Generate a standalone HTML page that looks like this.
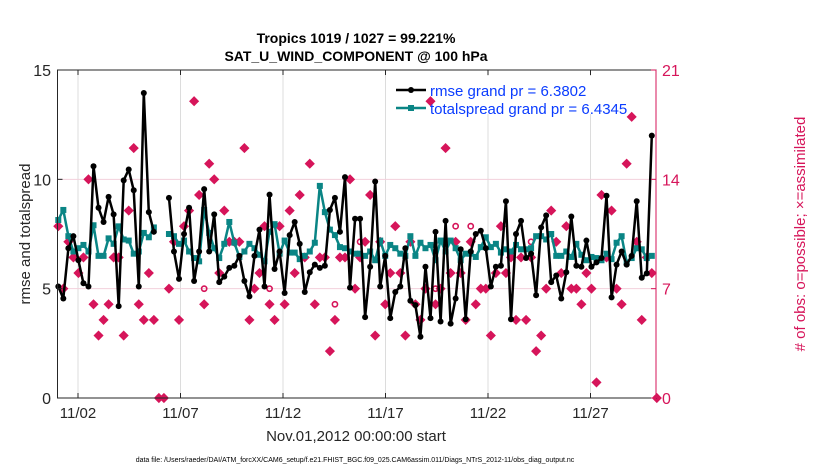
<!DOCTYPE html>
<html><head><meta charset="utf-8"><style>
html,body{margin:0;padding:0;background:#fff;}
svg{display:block;font-family:"Liberation Sans",Arial,sans-serif;}
</style></head><body>
<svg id="chart" width="830" height="470" viewBox="0 0 830 470" xmlns="http://www.w3.org/2000/svg">
<rect x="0" y="0" width="830" height="470" fill="#fff"/>
<text x="356" y="43" font-size="14" font-weight="bold" text-anchor="middle" fill="#000">Tropics 1019 / 1027 = 99.221%</text>
<text x="356" y="61" font-size="14" font-weight="bold" text-anchor="middle" fill="#000">SAT_U_WIND_COMPONENT @ 100 hPa</text>
<g id="grid"></g>
<rect x="390" y="76" width="262" height="38" fill="#fff"/>
<g id="obs"></g>
<g id="series"></g>
<rect x="57.5" y="70" width="598.5" height="328" fill="none" stroke="#262626" stroke-width="1"/>
<line x1="656" y1="70" x2="656" y2="398" stroke="#d6155a" stroke-width="1"/>
<g id="axes"></g>
<text transform="translate(30,234) rotate(-90)" font-size="15" text-anchor="middle" fill="#262626">rmse and totalspread</text>
<text transform="translate(805,234) rotate(-90)" font-size="15" text-anchor="middle" fill="#d6155a"># of obs: o=possible; ×=assimilated</text>
<text x="356" y="441" font-size="15" text-anchor="middle" fill="#262626">Nov.01,2012 00:00:00 start</text>
<text x="355" y="462" font-size="7" text-anchor="middle" fill="#000">data file: /Users/raeder/DAI/ATM_forcXX/CAM6_setup/f.e21.FHIST_BGC.f09_025.CAM6assim.011/Diags_NTrS_2012-11/obs_diag_output.nc</text>
<g>
<g>
<line x1="396" y1="90" x2="426" y2="90" stroke="#000" stroke-width="2.5"/><circle cx="411" cy="90" r="3" fill="#000"/>
<text x="430" y="96" font-size="15" fill="#0a3cff">rmse grand pr = 6.3802</text></g>
<g>
<line x1="396" y1="108" x2="426" y2="108" stroke="#0a8585" stroke-width="2.5"/><rect x="408" y="105" width="6" height="6" fill="#0a8585"/>
<text x="430" y="114" font-size="15" fill="#0a3cff">totalspread grand pr = 6.4345</text></g>
</g>
</svg>
<script>
const leftTicks=[0,5,10,15];
const rightTicks=[0,7,14,21];
const dayTicks=[1,6,11,16,21,26];
const dayLabels=["11/02","11/07","11/12","11/17","11/22","11/27"];
const rmse=[5.1,4.55,6.85,7.4,6.3,5.25,5.1,10.6,8.7,8.05,9.2,8.4,4.2,9.95,10.45,9.5,5.1,13.95,8.5,7.6,null,null,
9.15,6.7,5.45,7.5,8.7,5.35,6.7,9.55,
6.7,8.4,5.3,5.55,5.95,6.05,6.5,5.35,4.65,6.5,7.7,5.1,9.3,5.9,6.7,4.8,7.45,8.05,7.05,4.85,5.75,6.1,5.95,6.05,8.6,9.15,7.6,10.1,5.05,8.2,
8.2,3.7,6.0,9.9,5.1,6.5,3.65,4.85,5.1,6.85,4.45,4.25,2.8,6.0,3.65,7.6,3.5,8.1,3.4,4.55,6.8,3.6,6.7,7.5,7.65,6.85,5.1,6.0,6.05,9.0,
3.6,7.5,8.1,6.4,6.6,4.7,7.8,8.35,5.3,5.6,4.55,5.75,8.3,6.05,6.0,7.2,6.0,6.2,6.4,9.25,4.6,6.1,6.7,6.1,6.5,9.0,5.5,5.7,12.0];
const spread=[8.14,8.6,7.4,6.7,6.85,7.0,6.7,7.9,6.5,6.5,7.3,7.05,7.85,7.25,7.2,6.6,6.7,7.55,7.35,7.8,null,null,
7.5,7.4,7.05,7.2,6.7,6.4,6.25,8.6,
7.55,6.85,6.4,7.05,8.05,7.1,6.45,6.7,7.05,6.85,6.55,6.25,7.6,7.95,6.6,7.2,6.65,6.65,6.35,6.5,6.7,7.1,9.7,8.5,7.7,7.45,6.9,6.85,6.7,6.6,
6.6,6.5,6.7,6.3,7.2,6.5,7.0,6.85,6.6,6.5,7.4,6.5,7.1,6.85,7.0,6.3,7.2,6.7,7.2,6.85,6.3,6.6,6.6,6.45,6.9,7.35,6.9,7.05,6.65,6.8,
6.7,7.0,6.8,6.8,6.85,7.4,7.4,7.25,7.5,6.5,6.5,6.7,6.45,7.05,6.55,6.3,6.45,6.4,6.3,6.6,6.35,7.1,7.4,6.2,6.4,6.85,6.8,6.4,6.5];
const nAssim=[11,7,10,9,8,9,14,6,4,5,6,9,9,4,12,16,6,5,8,5,0,0,
7,10,5,11,12,19,13,6,
15,14,8,12,10,10,10,16,5,7,8,11,6,5,11,6,12,8,13,9,15,6,9,9,3,5,9,9,14,7,
9,10,13,4,10,6,8,11,8,4,10,6,5,7,19,6,7,16,8,10,8,5,10,6,7,7,4,8,11,8,
9,5,9,5,9,3,4,7,12,10,8,11,7,7,6,8,7,1,13,9,12,7,6,15,18,10,5,9,8,0];
const nPoss=[11,7,10,9,8,9,14,6,4,5,6,9,9,4,12,16,6,5,8,5,0,0,
7,10,5,11,12,19,13,7,
15,14,8,12,10,10,10,16,5,7,8,11,7,5,11,6,12,8,13,9,15,6,9,9,3,6,9,9,14,7,
10,10,13,4,10,6,8,11,8,4,10,6,5,7,19,7,7,16,8,11,8,5,11,6,7,7,4,8,11,8,
9,5,9,5,10,3,4,7,12,10,8,11,7,7,6,8,7,1,13,9,12,7,6,15,18,10,5,9,8,0];

const NS="http://www.w3.org/2000/svg";
const X0=57.5,X1=656,Y0=398,Y1=70;
const ptX0=58.3,ptX1=651.8;
function xIdx(i){return ptX0+i*(ptX1-ptX0)/(rmse.length-1);}
function xDay(d){return 57.5+20.5*d;}
function yL(v){return Y0-(v/15)*(Y0-Y1);}
function yR(v){return Y0-(v/21)*(Y0-Y1);}
function mk(tag,attrs,parent){const e=document.createElementNS(NS,tag);for(const k in attrs)e.setAttribute(k,attrs[k]);parent.appendChild(e);return e;}

const grid=document.getElementById('grid');
dayTicks.forEach(d=>{const l=mk('line',{x1:xDay(d),x2:xDay(d),y1:Y1,y2:Y0,stroke:'#dcdcdc','stroke-width':1},grid);

});
[5,10].forEach(v=>{const l=mk('line',{x1:X0,x2:X1,y1:yL(v),y2:yL(v),stroke:'#f3d0dc','stroke-width':1},grid);

});

const axes=document.getElementById('axes');
leftTicks.forEach(v=>{const t=mk('text',{x:51,y:yL(v)+6,'font-size':16,'text-anchor':'end',fill:'#262626'},axes);t.textContent=v;


const l=mk('line',{x1:X0,x2:X0+5,y1:yL(v),y2:yL(v),stroke:'#262626'},axes);

});
rightTicks.forEach(v=>{const t=mk('text',{x:662,y:yR(v)+6,'font-size':16,'text-anchor':'start',fill:'#d6155a'},axes);t.textContent=v;


const l=mk('line',{x1:X1-5,x2:X1,y1:yR(v),y2:yR(v),stroke:'#d6155a'},axes);

});
dayTicks.forEach((d,k)=>{const t=mk('text',{x:xDay(d),y:418,'font-size':15,'text-anchor':'middle',fill:'#262626'},axes);t.textContent=dayLabels[k];


const l=mk('line',{x1:xDay(d),x2:xDay(d),y1:Y0,y2:Y0-5,stroke:'#262626'},axes);


const l2=mk('line',{x1:xDay(d),x2:xDay(d),y1:Y1,y2:Y1+5,stroke:'#262626'},axes);

});

const obs=document.getElementById('obs');
const oX=i=>ptX0+i*(ptX1-ptX0)/(rmse.length-1);
nPoss.forEach((v,i)=>{if(v===nAssim[i])return;const c=mk('circle',{cx:oX(i),cy:yR(v),r:2.6,fill:'none',stroke:'#d6155a','stroke-width':1.6},obs);

});
nAssim.forEach((v,i)=>{const x=oX(i),y=yR(v);
const p=mk('path',{d:`M${x-4.5},${y}L${x},${y-4.5}L${x+4.5},${y}L${x},${y+4.5}Z`,fill:'#d6155a',stroke:'#d6155a','stroke-width':0.8},obs);

});

const series=document.getElementById('series');
function drawLine(arr,color,name){let d='',pen=false;
arr.forEach((v,i)=>{if(v===null){pen=false;return;}d+=(pen?'L':'M')+xIdx(i).toFixed(1)+','+yL(v).toFixed(1);pen=true;});
const p=mk('path',{d:d,fill:'none',stroke:color,'stroke-width':2.5,'stroke-linejoin':'round'},series);

}
drawLine(spread,'#0a8585','totalspread-line');
spread.forEach((v,i)=>{if(v===null)return;const r=mk('rect',{x:xIdx(i)-3,y:yL(v)-3,width:6,height:6,fill:'#0a8585'},series);

});
drawLine(rmse,'#000','rmse-line');
rmse.forEach((v,i)=>{if(v===null)return;const c=mk('circle',{cx:xIdx(i),cy:yL(v),r:3,fill:'#000'},series);

});
</script>
</body></html>
